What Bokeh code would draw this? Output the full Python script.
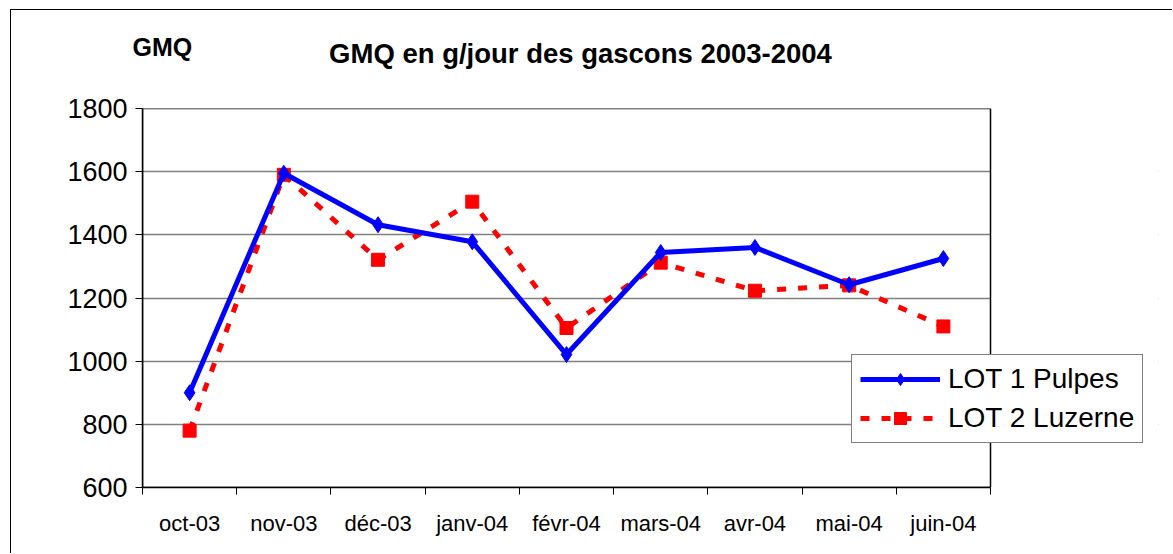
from bokeh.plotting import figure
from bokeh.models import (Range1d, FixedTicker, Label, Legend, LegendItem, ColumnDataSource,
                          BoxAnnotation)
from bokeh.embed import file_html
from bokeh.resources import INLINE

categories = ["oct-03", "nov-03", "déc-03", "janv-04", "févr-04", "mars-04", "avr-04", "mai-04", "juin-04"]
lot1 = [900, 1595, 1432, 1378, 1021, 1344, 1360, 1242, 1325]
lot2 = [780, 1590, 1321, 1505, 1105, 1312, 1223, 1240, 1110]
y_ticks = [600, 800, 1000, 1200, 1400, 1600, 1800]
series_names = ["LOT 1 Pulpes", "LOT 2 Luzerne"]
title_text = "GMQ en g/jour des gascons 2003-2004"
y_title = "GMQ"

FONT = "Liberation Sans"
n = len(categories)
xs = [i + 0.5 for i in range(n)]

W, H = 1162, 544
BL, BR, BT, BB = 131, 15, 98, 67
PLOT_W = 848                      # width of the visible plot area in px
FRAME_W = W - BL - BR             # frame extends to the right so the legend is not clipped
x_end = n * FRAME_W / PLOT_W

p = figure(width=W, height=H, output_backend="svg", toolbar_location=None,
           x_range=Range1d(0, x_end), y_range=Range1d(600, 1800),
           min_border_left=BL, min_border_right=BR, min_border_top=BT, min_border_bottom=BB)
p.styles = {"margin-left": "10px", "margin-top": "9px",
            "border-left": "1px solid black", "border-top": "1px solid black"}
p.outline_line_color = None
p.background_fill_color = "white"
p.border_fill_color = "white"

# axes
p.xaxis.ticker = FixedTicker(ticks=xs, minor_ticks=list(range(n + 1)))
p.xaxis.bounds = (0, n)
p.xaxis.major_label_overrides = {x: c for x, c in zip(xs, categories)}
p.xaxis.major_tick_out = 0
p.xaxis.major_tick_in = 0
p.xaxis.minor_tick_out = 7
p.xaxis.minor_tick_in = 0
p.xaxis.minor_tick_line_color = "black"
p.xaxis.axis_line_color = "black"
p.xaxis.axis_line_width = 1.5
p.xaxis.major_label_text_font = FONT
p.xaxis.major_label_text_font_size = "22px"
p.xaxis.major_label_text_color = "black"
p.xaxis.major_label_standoff = 16

p.yaxis.ticker = FixedTicker(ticks=y_ticks)
p.yaxis.minor_tick_line_color = None
p.yaxis.major_tick_out = 7
p.yaxis.major_tick_in = 0
p.yaxis.major_tick_line_color = "black"
p.yaxis.axis_line_color = "black"
p.yaxis.axis_line_width = 1.5
p.yaxis.major_label_text_font = FONT
p.yaxis.major_label_text_font_size = "27px"
p.yaxis.major_label_text_color = "black"
p.yaxis.major_label_standoff = 8

p.xgrid.grid_line_color = None
p.ygrid.ticker = FixedTicker(ticks=y_ticks)
p.ygrid.grid_line_color = "#808080"
p.ygrid.grid_line_width = 1.5

src = ColumnDataSource(dict(x=xs, lot1=lot1, lot2=lot2))

r2l = p.line("x", "lot2", source=src, line_color="#FF0000", line_width=5, line_dash="9 12")
r2m = p.scatter("x", "lot2", source=src, marker="square", size=13, fill_color="#FF0000", line_color="#FF0000")
r1l = p.line("x", "lot1", source=src, line_color="#0000FF", line_width=5)
r1m = p.scatter("x", "lot1", source=src, marker="diamond", size=16, fill_color="#0000FF", line_color="#0000FF")

# blank area right of the plot area, and the plot-area border
p.add_layout(BoxAnnotation(left=n, fill_color="white", fill_alpha=1.0, line_color=None))
p.add_layout(BoxAnnotation(left=0, right=n, bottom=600, top=1800, fill_alpha=0,
                           line_color="black", line_alpha=1.0, line_width=1.5))

legend = Legend(items=[LegendItem(label=series_names[0], renderers=[r1l, r1m]),
                       LegendItem(label=series_names[1], renderers=[r2l, r2m])],
                location=(709, 44), label_text_font=FONT, label_text_font_size="28px",
                label_text_color="black", border_line_color="black", border_line_width=1.5,
                background_fill_color="white", background_fill_alpha=1.0,
                glyph_width=80, glyph_height=30, label_standoff=8, padding=8, spacing=7,
                margin=0)
p.add_layout(legend, "center")

p.add_layout(Label(x=438, y=55, x_units="screen", y_units="screen", text=title_text,
                   text_align="center", text_baseline="alphabetic", text_font=FONT,
                   text_font_size="27.5px", text_font_style="bold", text_color="black"), "above")
p.add_layout(Label(x=-10, y=31, x_units="screen", y_units="screen", text=y_title,
                   text_align="left", text_baseline="alphabetic", text_font=FONT,
                   text_font_size="25px", text_font_style="bold", text_color="black"), "above")

open("out.html", "w").write(file_html(p, INLINE))
